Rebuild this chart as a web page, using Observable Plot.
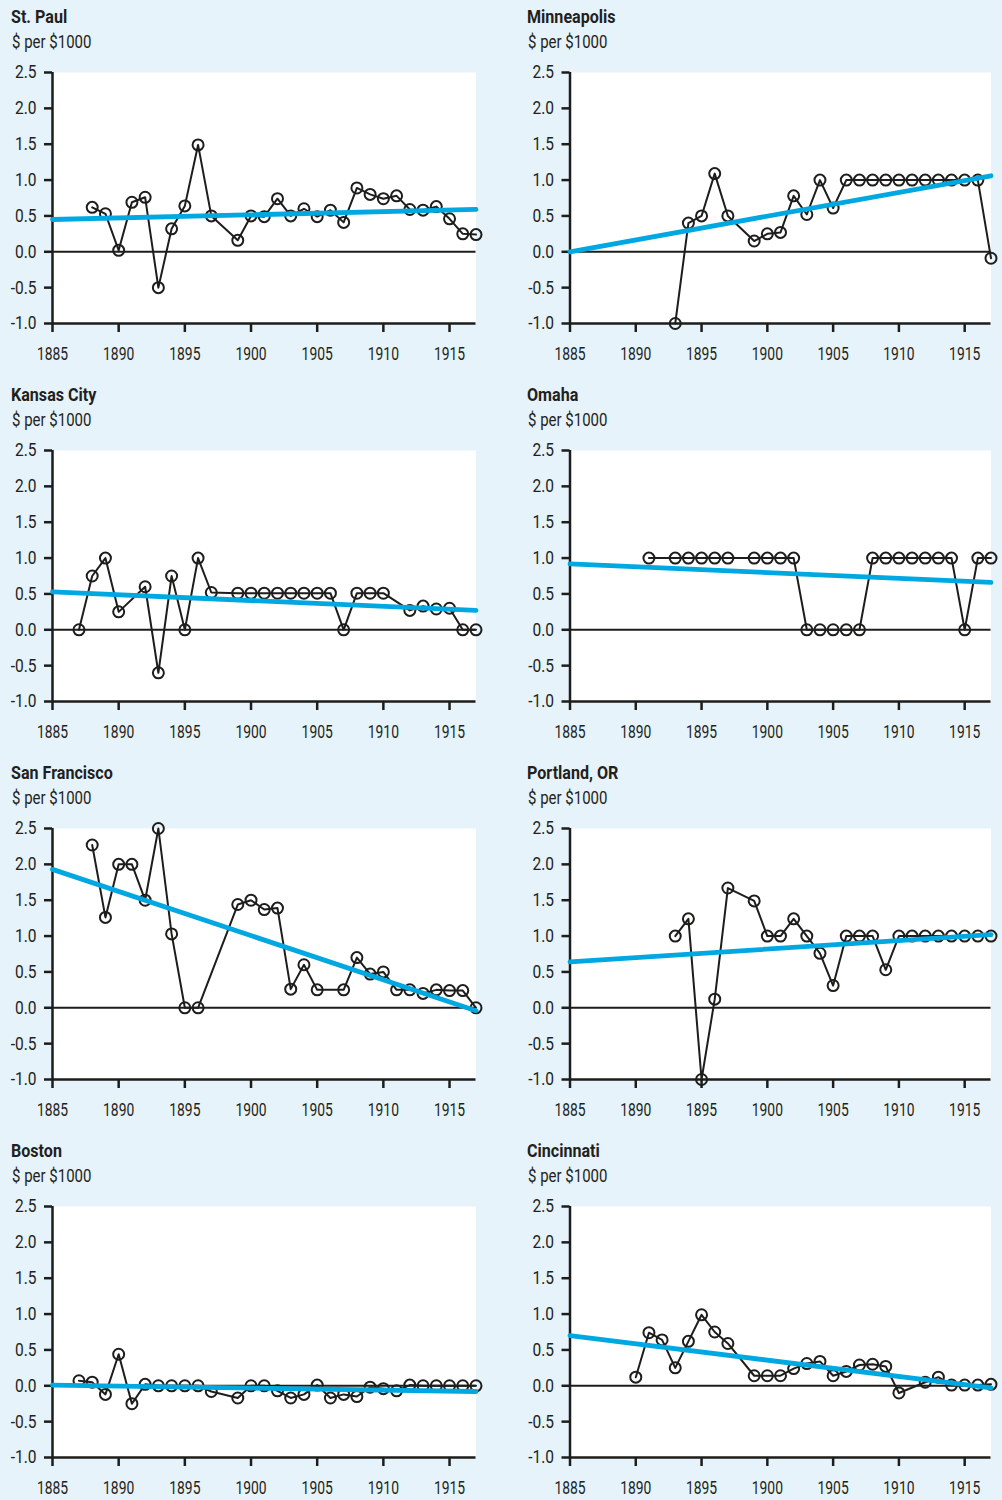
<!DOCTYPE html>
<html>
<head>
<meta charset="utf-8">
<script src="https://cdn.jsdelivr.net/npm/d3@7"></script>
<script src="https://cdn.jsdelivr.net/npm/@observablehq/plot@0.6"></script>
<style>
  html, body { margin: 0; padding: 0; background: #e6f3fb; }
  body { width: 1002px; height: 1500px; position: relative; overflow: hidden;
         font-family: Roboto, "DejaVu Sans", sans-serif; color: #231f20; }
  .panel { position: absolute; width: 501px; height: 378px; }
  .title { position: absolute; top: 8px; font-size: 18.5px; line-height: 18px; font-weight: bold; white-space: nowrap;
           transform: scaleX(0.87); transform-origin: 0 0; }
  .sub { position: absolute; top: 33px; font-size: 18.5px; line-height: 18px; white-space: nowrap;
         transform: scaleX(0.81); transform-origin: 0 0; }
  .chart { position: absolute; top: 56px; left: 0; }
</style>
</head>
<body>
<script>
// ---- data ----
const years = [1885,1886,1887,1888,1889,1890,1891,1892,1893,1894,1895,1896,1897,1898,1899,1900,
               1901,1902,1903,1904,1905,1906,1907,1908,1909,1910,1911,1912,1913,1914,1915,1916,1917];
const cities = ["St. Paul", "Minneapolis", "Kansas City", "Omaha", "San Francisco", "Portland, OR", "Boston", "Cincinnati"];
const unitLabel = "$ per $1000";

const stPaul = [null,null,null,0.62,0.53,0.02,0.69,0.76,-0.5,0.32,0.64,1.49,0.5,null,0.16,0.5,0.49,0.74,0.5,0.6,0.49,0.58,0.41,0.89,0.8,0.74,0.78,0.59,0.58,0.63,0.46,0.25,0.24];
const minneapolis = [null,null,null,null,null,null,null,null,-1.0,0.4,0.5,1.09,0.5,null,0.15,0.25,0.27,0.78,0.52,1.0,0.61,1.0,1.0,1.0,1.0,1.0,1.0,1.0,1.0,1.0,1.0,1.0,-0.09];
const kansasCity = [null,null,0,0.75,1.0,0.25,null,0.6,-0.6,0.75,0,1.0,0.52,null,0.51,0.51,0.51,0.51,0.51,0.51,0.51,0.51,0,0.51,0.51,0.51,null,0.27,0.33,0.29,0.3,0,0];
const omaha = [null,null,null,null,null,null,1.0,null,1.0,1.0,1.0,1.0,1.0,null,1.0,1.0,1.0,1.0,0,0,0,0,0,1.0,1.0,1.0,1.0,1.0,1.0,1.0,0,1.0,1.0];
const sanFrancisco = [null,null,null,2.27,1.26,2.0,2.0,1.5,2.5,1.03,0,0,null,null,1.44,1.5,1.37,1.39,0.26,0.6,0.25,null,0.25,0.7,0.47,0.5,0.25,0.25,0.2,0.25,0.24,0.24,0];
const portland = [null,null,null,null,null,null,null,null,1.0,1.24,-1.0,0.12,1.67,null,1.49,1.0,1.0,1.24,1.0,0.76,0.31,1.0,1.0,1.0,0.53,1.0,1.0,1.0,1.0,1.0,1.0,1.0,1.0];
const boston = [null,null,0.07,0.05,-0.12,0.44,-0.25,0.02,0,0,0,0,-0.08,null,-0.17,0,0,-0.07,-0.17,-0.12,0.01,-0.17,-0.12,-0.15,-0.02,-0.04,-0.07,0.01,0,0,0,0,0];
const cincinnati = [null,null,null,null,null,0.12,0.74,0.64,0.25,0.62,0.99,0.75,0.59,null,0.14,0.14,0.14,0.24,0.31,0.34,0.14,0.2,0.29,0.3,0.27,-0.1,null,0.05,0.12,0.01,0.01,0.01,0.02];

const trendStart = [0.45, 0.0, 0.53, 0.92, 1.93, 0.64, 0.01, 0.70];   // value at 1885
const trendEnd   = [0.59, 1.06, 0.27, 0.66, -0.04, 1.02, -0.08, -0.03]; // value at 1917

const xTicks = [1885, 1890, 1895, 1900, 1905, 1910, 1915];
const yTicks = [-1.0, -0.5, 0.0, 0.5, 1.0, 1.5, 2.0, 2.5];

const seriesList = [stPaul, minneapolis, kansasCity, omaha, sanFrancisco, portland, boston, cincinnati];

// ---- drawing ----
const ink = "#1d1d1b";
const trendBlue = "#00a8e1";

function condense(svg, selector, k) {
  svg.querySelectorAll(selector).forEach(t => {
    const tr = t.getAttribute("transform");
    if (tr) {
      t.setAttribute("transform", tr + ` scale(${k},1)`);
    } else {
      const x = +(t.getAttribute("x") || 0), y = +(t.getAttribute("y") || 0);
      t.removeAttribute("x"); t.removeAttribute("y");
      t.setAttribute("transform", `translate(${x},${y}) scale(${k},1)`);
    }
  });
}

seriesList.forEach((vals, i) => {
  const col = i % 2, row = Math.floor(i / 2);
  const panel = document.createElement("div");
  panel.className = "panel";
  panel.style.left = (col * 501) + "px";
  panel.style.top = (row * 378) + "px";

  const t = document.createElement("div");
  t.className = "title";
  t.style.left = (col === 0 ? 11 : 26) + "px";
  t.textContent = cities[i];
  const s = document.createElement("div");
  s.className = "sub";
  s.style.left = (col === 0 ? 12 : 27) + "px";
  s.textContent = unitLabel;

  const data = years.map((y, k) => ({year: y, value: vals[k]})).filter(d => d.value != null);
  const trend = [{year: years[0], value: trendStart[i]}, {year: years[years.length - 1], value: trendEnd[i]}];

  const chart = Plot.plot({
    width: 501,
    height: 322,
    marginTop: 16,
    marginBottom: 55,
    marginLeft: col === 0 ? 52 : 68.5,
    marginRight: col === 0 ? 25.5 : 11.5,
    x: {domain: [1885, 1917], label: null},
    y: {domain: [-1, 2.5], label: null},
    style: {background: "transparent", fontSize: "18.5px", color: "#231f20",
            fontFamily: 'Roboto, "DejaVu Sans", sans-serif'},
    marks: [
      Plot.frame({fill: "white", stroke: "none"}),
      Plot.ruleY([0], {stroke: ink, strokeWidth: 2}),
      Plot.axisY({ticks: yTicks, tickFormat: d => d.toFixed(1), tickSize: 8, tickPadding: 8,
                  stroke: ink, strokeWidth: 2.5, label: null}),
      Plot.axisX({ticks: xTicks, tickFormat: d => String(d), tickSize: 9, tickPadding: 14,
                  stroke: ink, strokeWidth: 2.5, label: null}),
      Plot.ruleX([1885], {y1: -1, y2: 2.5, stroke: ink, strokeWidth: 2.5}),
      Plot.ruleY([-1], {stroke: ink, strokeWidth: 2.5}),
      Plot.line(data, {x: "year", y: "value", stroke: ink, strokeWidth: 2}),
      Plot.dot(data, {x: "year", y: "value", r: 5.5, stroke: ink, strokeWidth: 2, fill: "none"}),
      Plot.line(trend, {x: "year", y: "value", stroke: trendBlue, strokeWidth: 4.8, strokeLinecap: "round"})
    ]
  });
  condense(chart, 'g[aria-label="x-axis tick label"] text', 0.75);
  condense(chart, 'g[aria-label="y-axis tick label"] text', 0.84);
  chart.classList.add("chart");
  panel.appendChild(t);
  panel.appendChild(s);
  panel.appendChild(chart);
  document.body.appendChild(panel);
});
</script>
</body>
</html>
